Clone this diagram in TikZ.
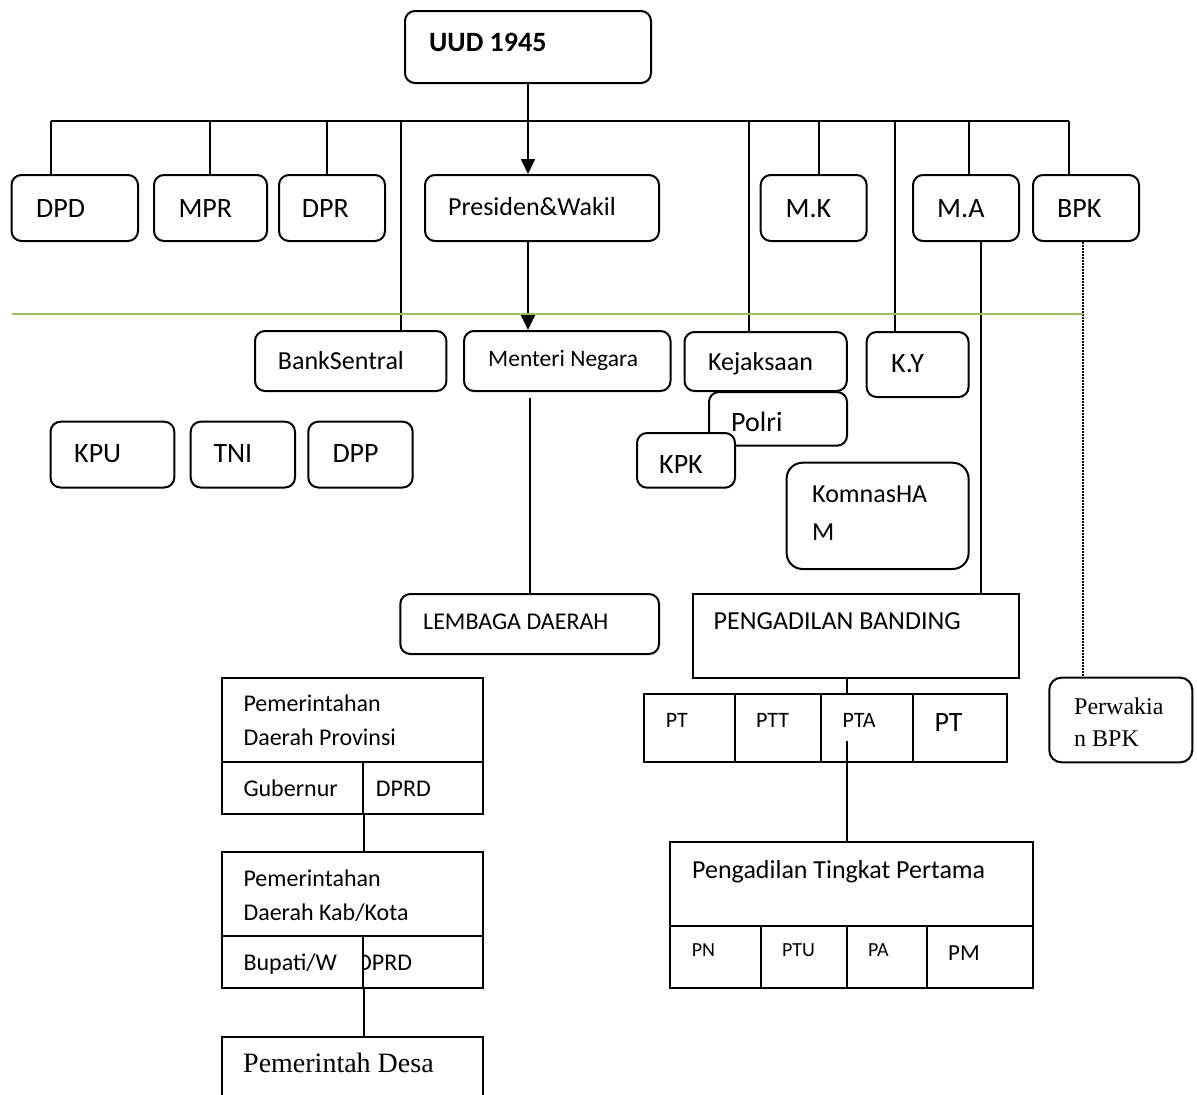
\documentclass[tikz,border=0pt]{standalone}
\usepackage{fontspec}
\setmainfont{Carlito}
\newfontfamily\seriffont{Liberation Serif}
\usetikzlibrary{arrows.meta,fit,calc}
\newcommand\fs[1]{\fontsize{#1}{#1}\selectfont}
\definecolor{glinecol}{RGB}{155,194,96}
\begin{document}
\begin{tikzpicture}[x=1pt,y=-1pt,
 rbox/.style={draw, line width=2pt, rounded corners=10pt, fill=white, inner sep=0pt},
 sbox/.style={draw, line width=2pt, fill=white, inner sep=0pt},
 txt/.style={inner sep=0pt, anchor=base west},
 conn/.style={line width=2pt},
 arr/.style={line width=2pt, -{Triangle[length=15pt,width=14pt]}},
 dotconn/.style={line width=1.6pt, dash pattern=on 1.5pt off 1.5pt},
 gline/.style={line width=2.2pt, draw=glinecol}
]
\useasboundingbox (0,0) rectangle (1197,1095);

% ---- boxes: top
\node[rbox, fit={(405,11)(651,83)}] (uud) {};
\node[rbox, fit={(11.5,175)(138,241)}] (dpd) {};
\node[rbox, fit={(154,175)(267,241)}] (mpr) {};
\node[rbox, fit={(279,175)(385,241)}] (dpr) {};
\node[rbox, fit={(425,175)(659,241)}] (pres) {};
\node[rbox, fit={(760.7,175)(866.6,241)}] (mk) {};
\node[rbox, fit={(913,175)(1019,241)}] (ma) {};
\node[rbox, fit={(1033,175)(1139,241)}] (bpk) {};

% ---- second level
\node[rbox, fit={(255,331)(446.4,391)}] (bank) {};
\node[rbox, fit={(464,331)(670.5,391)}] (men) {};
\node[rbox, fit={(684.5,332)(846.8,391)}] (keja) {};
\node[rbox, fit={(866.6,332)(968.6,397)}] (ky) {};
\node[rbox, fit={(709,392)(847,445.7)}] (polri) {};
\node[rbox, fit={(637,433)(735,487.7)}] (kpk) {};
\node[rbox, rounded corners=16pt, fit={(786.6,462.7)(968.6,569)}] (komnas) {};
\node[rbox, fit={(50.5,421.7)(174.3,487.5)}] (kpu) {};
\node[rbox, fit={(190.7,421.7)(295,487.5)}] (tni) {};
\node[rbox, fit={(308.3,421.7)(412.7,487.5)}] (dpp) {};

% ---- lower
\node[rbox, fit={(400.3,594)(659,654)}] (lemb) {};
\node[sbox, fit={(693,594)(1019,678)}] (pb) {};
\node[sbox, fit={(644.3,693.7)(735,761.7)}] (c1) {};
\node[sbox, fit={(735,693.7)(820.7,761.7)}] (c2) {};
\node[sbox, fit={(820.7,693.7)(912.7,761.7)}] (c3) {};
\node[sbox, fit={(912.7,693.7)(1007,761.7)}] (c4) {};
\node[sbox, fit={(670.3,841.7)(1032.7,926)}] (ptp) {};
\node[sbox, fit={(670.3,926)(760.7,988.3)}] (d1) {};
\node[sbox, fit={(760.7,926)(847,988.3)}] (d2) {};
\node[sbox, fit={(847,926)(927,988.3)}] (d3) {};
\node[sbox, fit={(927,926)(1032.7,988.3)}] (d4) {};
\node[rbox, rounded corners=12pt, fit={(1049.3,677.7)(1192.3,762.3)}] (perw) {};

\node[sbox, fit={(222.3,678)(483,762.3)}] (prov) {};
\node[sbox, fit={(222.3,762.3)(363,814.3)}] (gub) {};
\node[sbox, fit={(363,762.3)(483,814.3)}] (dprd1) {};
\node[sbox, fit={(222.3,852.3)(483,936)}] (kab) {};
\node[sbox, fit={(222.3,936)(363,988)}] (bup) {};
\node[sbox, fit={(363,936)(483,988)}] (dprd2) {};
\node[sbox, fit={(222.3,1037)(483,1112)}] (desa) {};

% ---- texts
\node[txt, font=\bfseries\fs{28}] (t-uud) at (429,51.7) {UUD 1945};
\node[txt, font=\fs{28}] (t-dpd) at (36,217) {DPD};
\node[txt, font=\fs{28}] (t-mpr) at (178.3,217) {MPR};
\node[txt, font=\fs{28}] (t-dpr) at (301.7,217) {DPR};
\node[txt, font=\fs{26}] (t-pres) at (448,215) {Presiden\&Wakil};
\node[txt, font=\fs{28}] (t-mk) at (785.5,217) {M.K};
\node[txt, font=\fs{28}] (t-ma) at (937,217) {M.A};
\node[txt, font=\fs{28}] (t-bpk) at (1057,217) {BPK};
\node[txt, font=\fs{26}] (t-bank) at (277.7,369.3) {BankSentral};
\node[txt, font=\fs{23.5}] (t-men) at (488,366.7) {Menteri Negara};
\node[txt, font=\fs{26}] (t-keja) at (707.8,370) {Kejaksaan};
\node[txt, font=\fs{28}] (t-ky) at (891,372.7) {K.Y};
\node[txt, font=\fs{28}] (t-polri) at (731,431) {Polri};
\node[txt, font=\fs{28}] (t-kpk) at (659,473) {KPK};
\node[txt, font=\fs{26}] (t-kom1) at (812,502.7) {KomnasHA};
\node[txt, font=\fs{26}] (t-kom2) at (812,540) {M};
\node[txt, font=\fs{28}] (t-kpu) at (74,462.7) {KPU};
\node[txt, font=\fs{28}] (t-tni) at (213.3,462.7) {TNI};
\node[txt, font=\fs{28}] (t-dpp) at (332.3,462.7) {DPP};
\node[txt, font=\fs{24}] (t-lemb) at (423,629) {LEMBAGA DAERAH};
\node[txt, font=\fs{26}] (t-pb) at (713.5,629) {PENGADILAN BANDING};
\node[txt, font=\fs{22}] (t-c1) at (665.7,727.7) {PT};
\node[txt, font=\fs{22}] (t-c2) at (756,727.7) {PTT};
\node[txt, font=\fs{22}] (t-c3) at (842.3,727.7) {PTA};
\node[txt, font=\fs{28}] (t-c4) at (934.3,731.7) {PT};
\node[txt, font=\fs{26}] (t-ptp) at (692,878.3) {Pengadilan Tingkat Pertama};
\node[txt, font=\fs{20}] (t-d1) at (691.7,956.7) {PN};
\node[txt, font=\fs{20}] (t-d2) at (782,956.7) {PTU};
\node[txt, font=\fs{20}] (t-d3) at (868,956.7) {PA};
\node[txt, font=\fs{23}] (t-d4) at (948,960) {PM};
\node[txt, font=\fs{24}] (t-prov1) at (243.3,711.7) {Pemerintahan};
\node[txt, font=\fs{24}] (t-prov2) at (243.3,745) {Daerah Provinsi};
\node[txt, font=\fs{24}] (t-gub) at (243.3,796) {Gubernur};
\node[txt, font=\fs{24}] (t-dprd1) at (375.7,796) {DPRD};
\node[txt, font=\fs{24}] (t-kab1) at (243.3,886) {Pemerintahan};
\node[txt, font=\fs{24}] (t-kab2) at (243.3,920) {Daerah Kab/Kota};
\node[txt, font=\fs{24}] (t-bup) at (243.3,970) {Bupati/W};
\begin{scope}
\clip (364,937) rectangle (482,987);
\node[txt, font=\fs{24}] (t-dprd2) at (357,970) {DPRD};
\end{scope}
\node[txt, font=\seriffont\fs{28}] (t-desa) at (243,1072.7) {Pemerintah Desa};
\node[txt, font=\seriffont\fs{24}] (t-perw1) at (1074,714) {Perwakia};
\node[txt, font=\seriffont\fs{24}] (t-perw2) at (1074,746) {n BPK};

% ---- bus and connectors
\coordinate (busL) at (50.5,121);
\coordinate (busR) at (1069,121);
\coordinate (bMPR) at (210,121);
\coordinate (bDPR) at (326.5,121);
\coordinate (bBank) at (401,121);
\coordinate (bKeja) at (748.5,121);
\coordinate (bMK) at (819,121);
\coordinate (bKY) at (894.7,121);
\coordinate (bMA) at (969,121);
\draw[conn] (busL) -- (busR);
\draw[conn] (busL) -- (busL |- dpd.north);
\draw[conn] (bMPR) -- (bMPR |- mpr.north);
\draw[conn] (bDPR) -- (bDPR |- dpr.north);
\draw[conn] (bBank) -- (bBank |- bank.north);
\draw[conn] (bKeja) -- (bKeja |- keja.north);
\draw[conn] (bMK) -- (bMK |- mk.north);
\draw[conn] (bKY) -- (bKY |- ky.north);
\draw[conn] (bMA) -- (bMA |- ma.north);
\draw[conn] (busR) -- (busR |- bpk.north);

\draw[arr] (uud.south) -- (uud.south |- pres.north);
\draw[arr] (uud.south |- pres.south) -- (uud.south |- men.north);
\draw[conn] ($(men.south -| lemb.north)+(0,6)$) -- (lemb.north);
\draw[conn] ($(ma.south)+(15,0)$) -- ($(ma.south |- pb.north)+(15,0)$);
\draw[dotconn] ($(bpk.south)+(-3.3,0)$) -- ($(bpk.south |- perw.north)+(-3.3,0)$);

\coordinate (jx) at (846.8,700);
\draw[conn] (pb.south -| jx) -- (c1.north -| jx);
\draw[conn] ($(c3.south -| jx)+(0,-21.7)$) -- (ptp.north -| jx);

\draw[conn] (gub.south east) -- (kab.north -| gub.south east);
\draw[conn] (bup.south east) -- (desa.north -| bup.south east);

% ---- green line
\coordinate (gL) at (11.5,314);
\coordinate (gR) at (1083,314);
\draw[gline] (gL) -- (gR);
\end{tikzpicture}
\end{document}
